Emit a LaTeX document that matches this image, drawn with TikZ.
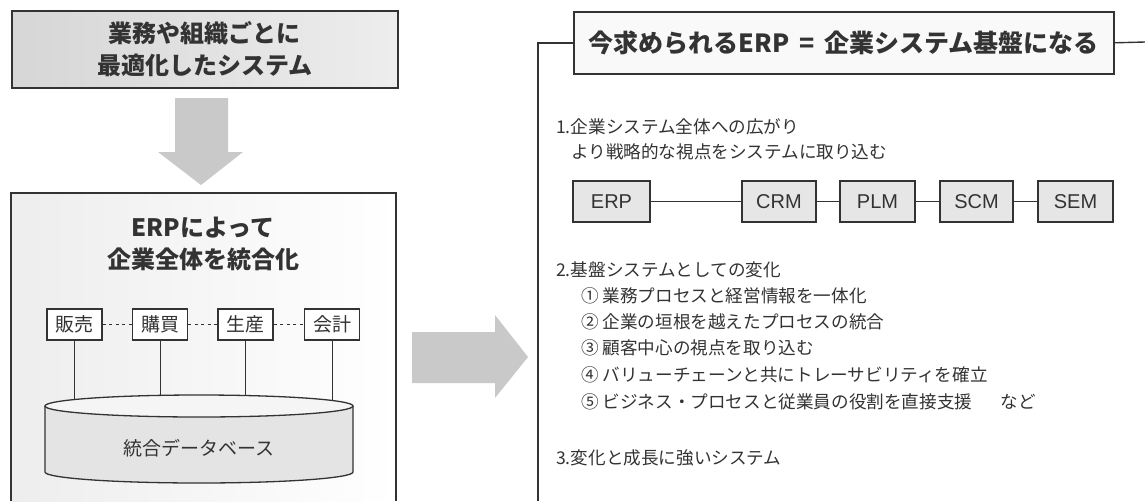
\documentclass[tikz,border=0pt]{standalone}
\usepackage{fontspec}
\setmainfont{Liberation Sans}
\newfontfamily\jp{Noto Sans CJK JP}
\definecolor{ink}{HTML}{333333}
\definecolor{boxgray}{HTML}{E6E6E6}
\definecolor{cylgray}{HTML}{E4E4E4}
\definecolor{arrowgray}{HTML}{C9C9C9}
\begin{document}
\begin{tikzpicture}[x=1pt,y=-1pt,
  frame/.style={draw=ink, line width=1.6pt},
  frameline/.style={draw=ink, line width=1.4pt},
  smallbox/.style={draw=ink, line width=1.2pt, fill=white, minimum width=55pt, minimum height=31pt, inner sep=0pt, font=\jp\fontsize{19}{19}\selectfont, text=ink},
  sysbox/.style={draw=ink, line width=1.3pt, fill=boxgray, minimum height=41pt, inner sep=0pt, font=\fontsize{20}{20}\selectfont, text=ink},
  link/.style={draw=ink, line width=1pt},
  dotlink/.style={draw=ink, line width=1.2pt, dash pattern=on 3pt off 3.5pt},
  body/.style={anchor=west, inner sep=0pt, font=\jp\fontsize{17.6}{17.6}\selectfont, text=ink},
  heading/.style={align=center, inner sep=0pt, font=\jp\bfseries\fontsize{24}{32}\selectfont, text=ink},
  bigarrow/.style={fill=arrowgray, draw=none}
]
\path[use as bounding box, fill=white] (0,0) rectangle (1145,501);

% ---------- left column ----------
\node (top) [frame, left color=gray!32, right color=gray!14, minimum width=386pt, minimum height=77pt,
  anchor=north west, heading, inner sep=0pt] at (11,10) {業務や組織ごとに\\最適化したシステム};

\fill[bigarrow] (175,98) -- (228,98) -- (228,152) -- (243,152) -- (201,185) -- (158,152) -- (175,152) -- cycle;

\fill[left color=gray!14, right color=white] (11,193) rectangle (396,501);
\draw[frame] (11,501) -- (11,193) -- (396,193) -- (396,501);

\node (h2) [heading] at (203,244) {ERPによって\\企業全体を統合化};

\node (s1) [smallbox] at (74.5,324.5) {販売};
\node (s2) [smallbox] at (160,324.5) {購買};
\node (s3) [smallbox] at (245.5,324.5) {生産};
\node (s4) [smallbox] at (332,324.5) {会計};
\draw[dotlink] (s1) -- (s2);
\draw[dotlink] (s2) -- (s3);
\draw[dotlink] (s3) -- (s4);

% cylinder
\path[fill=cylgray] (45,406) -- (45,472) arc[start angle=180, end angle=0, x radius=154, y radius=11] -- (353,406) -- cycle;
\draw[ink, line width=1.3pt] (45,406) -- (45,472) arc[start angle=180, end angle=0, x radius=154, y radius=11] -- (353,406);
\draw[ink, line width=1.3pt, fill=gray!8] (199,406) ellipse[x radius=154, y radius=11];
\node (db) [inner sep=0pt, font=\jp\fontsize{19}{19}\selectfont, text=ink] at (199,448) {統合データベース};

\coordinate (c1) at (74.5,399.5);
\coordinate (c2) at (160,395.4);
\coordinate (c3) at (245.5,395.5);
\coordinate (c4) at (332,400.5);
\draw[link] (s1) -- (c1);
\draw[link] (s2) -- (c2);
\draw[link] (s3) -- (c3);
\draw[link] (s4) -- (c4);

% middle arrow
\fill[bigarrow] (412,332) -- (495,332) -- (495,315) -- (528,357) -- (495,398) -- (495,383) -- (412,383) -- cycle;

% ---------- right column ----------
\node (t2) [frame, fill=gray!5, minimum width=540pt, minimum height=62pt, anchor=north west, inner sep=0pt,
  font=\jp\bfseries\fontsize{25}{25}\selectfont, text=ink] at (573,11) {今求められるERP\hspace{0.4em}=\hspace{0.4em}企業システム基盤になる};
\coordinate (fl) at (538,501);
\coordinate (fr) at (1145,42);
\draw[frameline] (t2.west) -| (fl);
\draw[frameline] (t2.east) -- (fr);

\node (l1) [body] at (556,127) {1.企業システム全体への広がり};
\node (l1b) [body] at (571,152) {より戦略的な視点をシステムに取り込む};

\node (erp) [sysbox, minimum width=77pt] at (611.5,201.5) {ERP};
\node (crm) [sysbox, minimum width=74pt] at (779,201.5) {CRM};
\node (plm) [sysbox, minimum width=75pt] at (877.5,201.5) {PLM};
\node (scm) [sysbox, minimum width=73pt] at (976.5,201.5) {SCM};
\node (sem) [sysbox, minimum width=75pt] at (1075.5,201.5) {SEM};
\draw[link] (erp) -- (crm);
\draw[link] (crm) -- (plm);
\draw[link] (plm) -- (scm);
\draw[link] (scm) -- (sem);

\node (l2) [body] at (556,270) {2.基盤システムとしての変化};
\node (i1) [body] at (581,296) {① 業務プロセスと経営情報を一体化};
\node (i2) [body] at (581,322) {② 企業の垣根を越えたプロセスの統合};
\node (i3) [body] at (581,348) {③ 顧客中心の視点を取り込む};
\node (i4) [body] at (581,375) {④ バリューチェーンと共にトレーサビリティを確立};
\node (i5) [body] at (581,402) {⑤ ビジネス・プロセスと従業員の役割を直接支援\hspace{1.6em}など};
\node (l3) [body] at (556,458) {3.変化と成長に強いシステム};
\end{tikzpicture}
\end{document}
